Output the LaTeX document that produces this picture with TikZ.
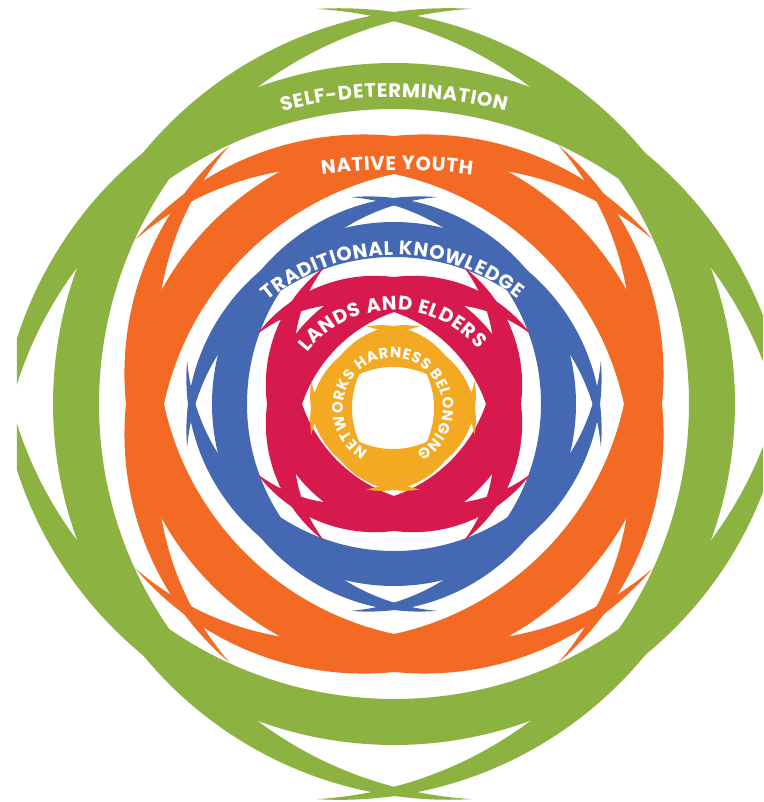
\documentclass[tikz,border=0pt]{standalone}
\usepackage{fontspec}
\setmainfont{Poppins}
\usetikzlibrary{decorations.text}

\definecolor{ringgreen}{HTML}{8CB341}
\definecolor{ringorange}{HTML}{F26A24}
\definecolor{ringblue}{HTML}{4468B2}
\definecolor{ringred}{HTML}{D61A4E}
\definecolor{ringyellow}{HTML}{F4A923}

% One tapered crescent: the part of circle A (centre offset -a along the
% crescent direction) that lies outside circle B (offset -b), both radius R.
% #1 direction, #2 R, #3 a, #4 b, #5 colour
\newcommand\lunepiece[5]{%
  \pgfmathsetmacro\lnM{(#3+#4)/2}%
  \pgfmathsetmacro\lnD{(#4-#3)/2}%
  \pgfmathsetmacro\lnH{#2*sqrt(1-(\lnD/#2)^2)}%
  \pgfmathsetmacro\lnT{atan(\lnD/\lnH)}%
  \fill[#5, rotate=#1] (-\lnM pt, -\lnH pt)
    arc[start angle=-90-\lnT, end angle=90+\lnT, radius=#2pt]
    arc[start angle=90-\lnT, end angle=-90+\lnT, radius=#2pt] -- cycle;}

% A woven ring: four crescents a quarter turn apart.
% #1 first direction, #2 R, #3 a, #4 b, #5 colour
\newcommand\wovenring[5]{%
  \foreach \q in {0,90,180,270}{%
    \pgfmathsetmacro\qq{#1+\q}%
    \lunepiece{\qq}{#2}{#3}{#4}{#5}}}

\newcommand\lblfont{\bfseries\fontsize{19.5pt}{20pt}\selectfont}
\newcommand\smlfont{\bfseries\fontsize{15pt}{15pt}\selectfont}

\tikzset{
  ringtext/.style={decorate, decoration={text along path, text={#1},
      text align={fit to path}, text color=white}}
}

\begin{document}
\begin{tikzpicture}[x=1pt, y=1pt]
  \useasboundingbox (-394pt,-398pt) rectangle (369pt,404pt);
  \fill[white] (-394pt,-398pt) rectangle (369pt,404pt);
  \clip (-377pt,-398pt) rectangle (369pt,404pt);

  % rings, outside in
  \wovenring{0}{395.8}{54.8}{100.8}{ringgreen}
  \wovenring{45}{300.1}{43.2}{89.6}{ringorange}
  \wovenring{0}{207.6}{25.6}{60.6}{ringblue}
  \wovenring{45}{147.5}{27.3}{67.4}{ringred}
  \begin{scope}[shift={(-1pt,-4pt)}]
    \wovenring{0}{82.85}{11.85}{41.85}{ringyellow}
  \end{scope}

  % labels along the rings
  \path[ringtext={|\lblfont|SELF-DETERMINATION}, shift={(0pt,-143pt)}]
    (104.4:450pt) arc[start angle=104.4, end angle=75.6, radius=450pt];
  \path[ringtext={|\lblfont|NATIVE YOUTH}, shift={(3pt,-366pt)}]
    (97.2:600pt) arc[start angle=97.2, end angle=82.8, radius=600pt];
  \path[ringtext={|\lblfont|TRADITIONAL KNOWLEDGE}, shift={(0pt,-47pt)}]
    (130:196pt) arc[start angle=130, end angle=51, radius=196pt];
  \path[ringtext={|\lblfont|LANDS AND ELDERS}, shift={(0pt,-16pt)}]
    (142:110pt) arc[start angle=142, end angle=40, radius=110pt];
  \path[ringtext={|\smlfont|NETWORKS HARNESS BELONGING}, shift={(-1pt,-4pt)}]
    (240:50pt) arc[start angle=240, end angle=-62, radius=50pt];
\end{tikzpicture}
\end{document}
